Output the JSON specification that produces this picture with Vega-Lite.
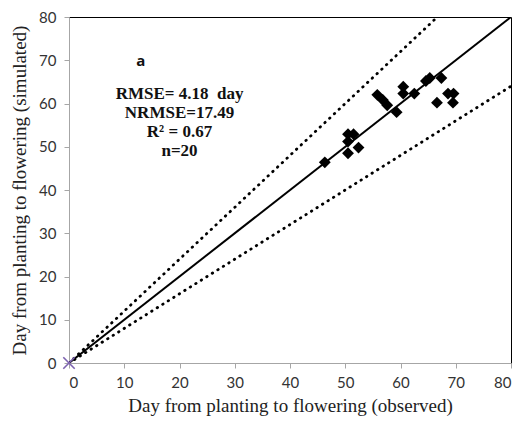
{
  "$schema": "https://vega.github.io/schema/vega-lite/v6.json",
  "autosize": {"type": "none"},
  "width": 442,
  "height": 346,
  "padding": {"left": 69, "top": 17, "right": 17, "bottom": 60},
  "background": "white",
  "config": {
    "view": {"stroke": "#000000", "strokeWidth": 1},
    "axis": {
      "grid": false,
      "domainColor": "#a6a6a6",
      "tickColor": "#a6a6a6",
      "tickSize": 5,
      "labelFont": "Lato",
      "labelFontSize": 15,
      "labelColor": "#333333",
      "titleFont": "Liberation Serif",
      "titleFontSize": 19,
      "titleFontWeight": "normal",
      "titleColor": "#222222"
    }
  },
  "datasets": {
    "pts": [
      {"obs": 46.3, "sim": 46.4},
      {"obs": 50.5, "sim": 48.5},
      {"obs": 50.5, "sim": 51.2},
      {"obs": 50.5, "sim": 52.9},
      {"obs": 51.5, "sim": 52.9},
      {"obs": 52.4, "sim": 49.8},
      {"obs": 55.8, "sim": 62.0},
      {"obs": 56.8, "sim": 60.8},
      {"obs": 57.6, "sim": 59.6},
      {"obs": 59.3, "sim": 58.0},
      {"obs": 60.5, "sim": 63.9},
      {"obs": 60.5, "sim": 62.3},
      {"obs": 62.5, "sim": 62.3},
      {"obs": 64.6, "sim": 65.2},
      {"obs": 65.3, "sim": 65.9},
      {"obs": 67.4, "sim": 65.9},
      {"obs": 66.6, "sim": 60.2},
      {"obs": 68.6, "sim": 62.3},
      {"obs": 69.6, "sim": 62.3},
      {"obs": 69.5, "sim": 60.2}
    ],
    "lines": [
      {"obs": 0, "sim": 0, "line": "1:1"},
      {"obs": 80, "sim": 80, "line": "1:1"},
      {"obs": 0, "sim": 0, "line": "+20%"},
      {"obs": 66.67, "sim": 80, "line": "+20%"},
      {"obs": 0, "sim": 0, "line": "-20%"},
      {"obs": 80, "sim": 64, "line": "-20%"}
    ],
    "stats": [
      {"obs": 20, "sim": 62.2, "label": "RMSE= 4.18\u00a0 day"},
      {"obs": 20, "sim": 57.8, "label": "NRMSE=17.49"},
      {"obs": 20, "sim": 53.4, "label": "R² = 0.67"},
      {"obs": 20, "sim": 49.0, "label": "n=20"}
    ],
    "tag": [{"obs": 13, "sim": 69.8, "label": "a"}],
    "origin": [{"obs": 0, "sim": 0}]
  },
  "encoding": {
    "x": {
      "field": "obs", "type": "quantitative",
      "scale": {"domain": [0, 80], "nice": false, "zero": true},
      "axis": {"values": [0, 10, 20, 30, 40, 50, 60, 70, 80], "title": "Day from planting to flowering (observed)", "labelPadding": 7, "titlePadding": 6}
    },
    "y": {
      "field": "sim", "type": "quantitative",
      "scale": {"domain": [0, 80], "nice": false, "zero": true},
      "axis": {"values": [0, 10, 20, 30, 40, 50, 60, 70, 80], "title": "Day from planting to flowering (simulated)", "labelPadding": 8, "titlePadding": 9}
    }
  },
  "layer": [
    {
      "data": {"name": "lines"},
      "transform": [{"filter": "datum.line === '1:1'"}],
      "mark": {"type": "line", "color": "#000000", "strokeWidth": 2, "clip": true},
      "encoding": {"detail": {"field": "line"}}
    },
    {
      "data": {"name": "lines"},
      "transform": [{"filter": "datum.line !== '1:1'"}],
      "mark": {"type": "line", "color": "#000000", "strokeWidth": 2.8, "strokeDash": [0.5, 6], "strokeCap": "round", "clip": true},
      "encoding": {"detail": {"field": "line"}}
    },
    {
      "data": {"name": "pts"},
      "mark": {"type": "point", "shape": "diamond", "filled": true, "color": "#000000", "size": 140, "opacity": 1}
    },
    {
      "data": {"name": "origin"},
      "mark": {"type": "point", "shape": "M-1,-1L1,1M-1,1L1,-1", "filled": false, "color": "#7d63b0", "size": 130, "strokeWidth": 1.6, "opacity": 1, "clip": false}
    },
    {
      "data": {"name": "stats"},
      "mark": {"type": "text", "font": "Liberation Serif", "fontSize": 17, "fontWeight": "bold", "color": "#111111", "align": "center", "baseline": "middle"},
      "encoding": {"text": {"field": "label"}}
    },
    {
      "data": {"name": "tag"},
      "mark": {"type": "text", "font": "Open Sans", "fontSize": 15, "fontWeight": "bold", "color": "#111111", "align": "center", "baseline": "middle"},
      "encoding": {"text": {"field": "label"}}
    }
  ]
}
